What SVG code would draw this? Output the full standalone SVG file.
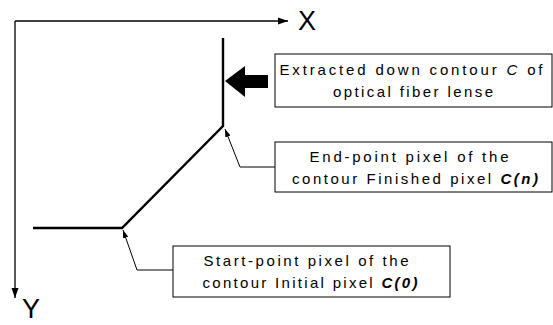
<svg xmlns="http://www.w3.org/2000/svg" width="553" height="325" viewBox="0 0 553 325">
<style>
.ax{fill:none;stroke:#000;stroke-width:1.3}
.ct{fill:none;stroke:#000;stroke-width:2.4;stroke-linejoin:miter}
.cn{fill:none;stroke:#000;stroke-width:1}
.box{fill:#fff;stroke:#000;stroke-width:1}
.t{font-family:"Liberation Sans",Arial,sans-serif;font-size:15px;fill:#000;text-anchor:middle}
.lbl{font-family:"Liberation Sans",Arial,sans-serif;font-size:27px;fill:#000}
.ci{font-style:italic;font-weight:bold}
</style>
<defs>
<marker id="ah" viewBox="0 0 10 10" refX="10" refY="5" markerWidth="8" markerHeight="8" markerUnits="userSpaceOnUse" orient="auto">
<path d="M0,1.5 L10,5 L0,8.5 z" fill="#000"/>
</marker>
<marker id="axh" viewBox="0 0 10 10" refX="10" refY="5" markerWidth="10" markerHeight="10" markerUnits="userSpaceOnUse" orient="auto">
<path d="M0,1.5 L10,5 L0,8.5 z" fill="#000"/>
</marker>
</defs>
<g id="axes">
<path class="ax" d="M15,21 L288,21" marker-end="url(#axh)"/>
<path class="ax" d="M15,21 L15,298" marker-end="url(#axh)"/>
<text class="lbl" x="298" y="30">X</text>
<text class="lbl" x="22" y="318">Y</text>
</g>
<g id="contour">
<path class="ct" d="M33,228 L122,228 L223,126 L223,38"/>
</g>
<g id="bigarrow">
<polygon points="225,81 245,66 245,75 268,75 268,88 245,88 245,97" fill="#000"/>
</g>
<g id="connectors">
<path class="cn" d="M275,167 L240,167 L225,129" marker-end="url(#ah)"/>
<path class="cn" d="M173,270 L137,270 L123,230" marker-end="url(#ah)"/>
</g>
<g id="box-extracted">
<rect class="box" x="275" y="54" width="277" height="53"/>
<text class="t" x="411" y="75" textLength="263" lengthAdjust="spacing">Extracted down contour <tspan font-style="italic">C</tspan> of</text>
<text class="t" x="413" y="97" textLength="160" lengthAdjust="spacing">optical fiber lense</text>
</g>
<g id="box-end">
<rect class="box" x="275" y="142" width="277" height="50"/>
<text class="t" x="409" y="162" textLength="199" lengthAdjust="spacing">End-point pixel of the</text>
<text class="t" x="415" y="184" textLength="246" lengthAdjust="spacing">contour Finished pixel <tspan class="ci">C(n)</tspan></text>
</g>
<g id="box-start">
<rect class="box" x="173" y="246" width="277" height="51"/>
<text class="t" x="306" y="266" textLength="205" lengthAdjust="spacing">Start-point pixel of the</text>
<text class="t" x="310" y="288" textLength="215" lengthAdjust="spacing">contour Initial pixel <tspan class="ci">C(0)</tspan></text>
</g>
</svg>
